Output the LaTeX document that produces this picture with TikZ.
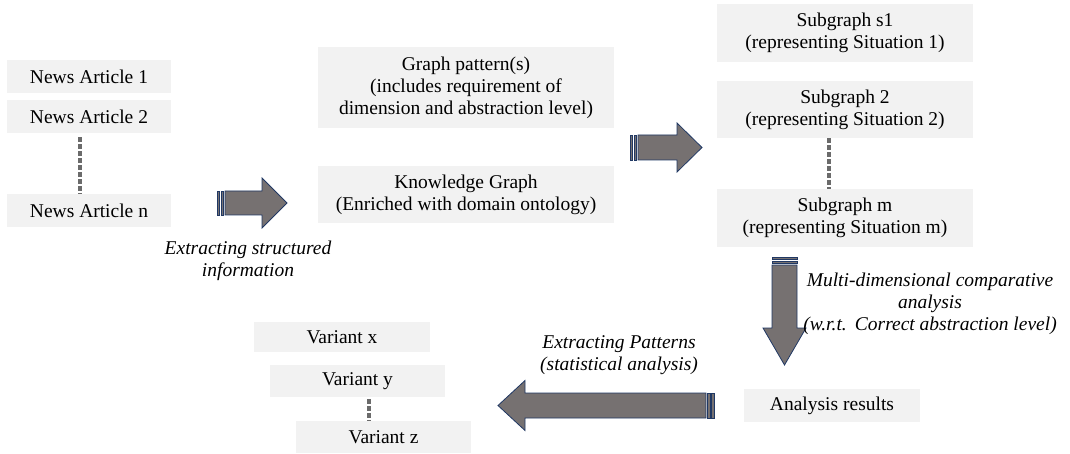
\documentclass[tikz,border=0pt]{standalone}
\usepackage{fontspec}
\setmainfont{Liberation Serif}
\definecolor{boxgray}{HTML}{F2F2F2}
\definecolor{arrowfill}{HTML}{767171}
\definecolor{arrowedge}{HTML}{203864}
\definecolor{dotgray}{HTML}{6B6B6B}
\begin{document}
\begin{tikzpicture}[x=1pt,y=-1pt,
  txt/.style={font=\fontsize{19.5}{22}\selectfont, align=center},
  gbox/.style={txt, fill=boxgray, inner sep=0pt},
  lbl/.style={font=\fontsize{19.5}{22}\selectfont\itshape, align=center, inner sep=0pt},
  barrow/.style={fill=arrowfill, draw=arrowedge, line width=0.8pt, line join=miter},
  dotline/.style={draw=dotgray, line width=4.5pt, dash pattern=on 4.5pt off 2.5pt}]
\useasboundingbox (0,0) rectangle (1070,454);

% left column
\node[gbox, minimum width=164pt, minimum height=33pt] (na1) at (89,76.5) {News Article 1};
\node[gbox, minimum width=164pt, minimum height=33pt] (na2) at (89,116.5) {News Article 2};
\node[gbox, minimum width=164pt, minimum height=33pt] (nan) at (89,210.5) {News Article n};
\draw[dotline] ([xshift=-9pt,yshift=-4pt]na2.south) -- ([xshift=-9pt]nan.north);

% middle column
\node[gbox, minimum width=296pt, minimum height=81pt] (gp) at (466,87.5)
  {Graph pattern(s)\\(includes requirement of\\dimension and abstraction level)};
\node[gbox, minimum width=296pt, minimum height=57pt] (kg) at (466,194.5)
  {Knowledge Graph\\(Enriched with domain ontology)};

% right column
\node[gbox, minimum width=256pt, minimum height=58pt] (s1) at (845,33)
  {Subgraph s1\\(representing Situation 1)};
\node[gbox, minimum width=256pt, minimum height=57pt] (s2) at (845,109.5)
  {Subgraph 2\\(representing Situation 2)};
\node[gbox, minimum width=256pt, minimum height=58pt] (sm) at (845,218)
  {Subgraph m\\(representing Situation m)};
\draw[dotline] ([xshift=-16pt]s2.south) -- ([xshift=-16pt]sm.north);

% results
\node[gbox, minimum width=176pt, minimum height=33pt] (ar) at (832,405.5) {Analysis results};

% variants
\node[gbox, minimum width=176pt, minimum height=30pt] (vx) at (342,337) {Variant x};
\node[gbox, minimum width=175pt, minimum height=32pt] (vy) at (357.5,381) {Variant y};
\node[gbox, minimum width=175pt, minimum height=32pt] (vz) at (383.5,437) {Variant z};
\draw[dotline] ([xshift=11.5pt,yshift=-2pt]vy.south) -- ([xshift=-14.5pt]vz.north);

% arrow 1
\draw[barrow] (217,191) rectangle (219.5,215);
\draw[barrow] (221,191) rectangle (223.5,215);
\draw[barrow] (225,191) -- (262,191) -- (262,178) -- (287,203) -- (262,228) -- (262,215) -- (225,215) -- cycle;
\node[lbl] (l1) at (248,260.5) {Extracting structured\\information};

% arrow 2
\draw[barrow] (630,135) rectangle (632.5,160);
\draw[barrow] (634,135) rectangle (636.5,160);
\draw[barrow] (638,135) -- (677,135) -- (677,123) -- (702,147.5) -- (677,172) -- (677,160) -- (638,160) -- cycle;

% down arrow
\draw[barrow] (772,257) rectangle (797,259.5);
\draw[barrow] (772,261) rectangle (797,263.5);
\draw[barrow] (772,265) -- (772,328) -- (763,328) -- (784.5,365) -- (806,328) -- (797,328) -- (797,265) -- cycle;
\node[lbl] (l2) at (930,303.5) {Multi-dimensional comparative\\analysis\\(w.r.t.\ \,Correct abstraction level)};

% left arrow
\draw[barrow] (714,393) rectangle (711.5,418);
\draw[barrow] (710,393) rectangle (707.5,418);
\draw[barrow] (706,393) -- (525,393) -- (525,380.5) -- (498,405.5) -- (525,430.5) -- (525,418) -- (706,418) -- cycle;
\node[lbl] (l3) at (619,355) {Extracting Patterns\\(statistical analysis)};
\end{tikzpicture}
\end{document}
